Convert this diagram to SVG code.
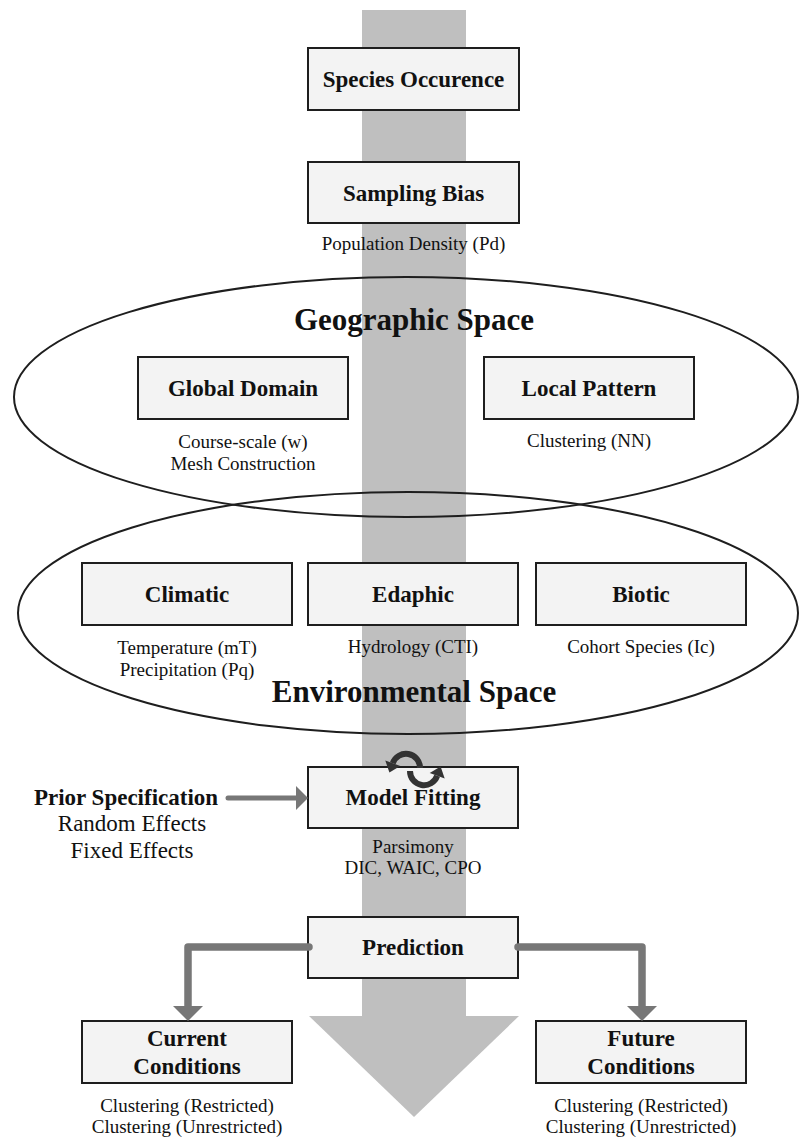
<svg xmlns="http://www.w3.org/2000/svg" width="800" height="1138" viewBox="0 0 800 1138">
<defs>
<style>
.box{fill:#f3f3f3;stroke:#1e1e1e;stroke-width:2}
.ell{fill:none;stroke:#1e1e1e;stroke-width:2}
.t{font-family:"Liberation Serif","Times New Roman",serif;font-weight:bold;font-size:23px;fill:#111;text-anchor:middle}
.s{font-family:"Liberation Serif","Times New Roman",serif;font-size:19px;fill:#111;text-anchor:middle}
.big{font-family:"Liberation Serif","Times New Roman",serif;font-weight:bold;font-size:31px;fill:#111;text-anchor:middle}
.p{font-family:"Liberation Serif","Times New Roman",serif;font-size:23px;fill:#111;text-anchor:middle}
.conn{fill:none;stroke:#777;stroke-width:7.5;stroke-linejoin:round;stroke-linecap:round}
.head{fill:#777}
.cyc{fill:none;stroke:#333;stroke-width:6}
</style>
</defs>
<rect width="800" height="1138" fill="#ffffff"/>
<g id="flow-arrow">
<rect x="362" y="10" width="104" height="1007" fill="#bfbfbf"/>
<polygon points="309,1016 519,1016 414,1117" fill="#bfbfbf"/>
</g>
<g id="geographic-space">
<ellipse class="ell" cx="406" cy="397" rx="392" ry="120"/>
<text class="big" x="414" y="330">Geographic Space</text>
</g>
<g id="environmental-space">
<ellipse class="ell" cx="408" cy="613" rx="390" ry="121"/>
<text class="big" x="414" y="702">Environmental Space</text>
</g>
<g id="species-occurence">
<rect class="box" x="308" y="48" width="211" height="62"/>
<text class="t" x="413.5" y="87">Species Occurence</text>
</g>
<g id="sampling-bias">
<rect class="box" x="308" y="162" width="211" height="61"/>
<text class="t" x="413.5" y="201">Sampling Bias</text>
<text class="s" x="413.5" y="250">Population Density (Pd)</text>
</g>
<g id="global-domain">
<rect class="box" x="138" y="357" width="210" height="62"/>
<text class="t" x="243" y="396">Global Domain</text>
<text class="s" x="243" y="448">Course-scale (w)</text>
<text class="s" x="243" y="470">Mesh Construction</text>
</g>
<g id="local-pattern">
<rect class="box" x="484" y="357" width="210" height="62"/>
<text class="t" x="589" y="396">Local Pattern</text>
<text class="s" x="589" y="447">Clustering (NN)</text>
</g>
<g id="climatic">
<rect class="box" x="82" y="563" width="210" height="62"/>
<text class="t" x="187" y="602">Climatic</text>
<text class="s" x="187" y="654">Temperature (mT)</text>
<text class="s" x="187" y="676">Precipitation (Pq)</text>
</g>
<g id="edaphic">
<rect class="box" x="308" y="563" width="210" height="62"/>
<text class="t" x="413" y="602">Edaphic</text>
<text class="s" x="413" y="653">Hydrology (CTI)</text>
</g>
<g id="biotic">
<rect class="box" x="536" y="563" width="210" height="62"/>
<text class="t" x="641" y="602">Biotic</text>
<text class="s" x="641" y="653">Cohort Species (Ic)</text>
</g>
<g id="prior-specification">
<text class="t" x="126" y="805">Prior Specification</text>
<text class="p" x="132" y="831">Random Effects</text>
<text class="p" x="132" y="858">Fixed Effects</text>
</g>
<g id="model-fitting">
<rect class="box" x="308" y="767" width="210" height="61"/>
<text class="t" x="413" y="805">Model Fitting</text>
<text class="s" x="413" y="853">Parsimony</text>
<text class="s" x="413" y="874">DIC, WAIC, CPO</text>
<path class="cyc" d="M 420 768 A 14 14 0 0 0 392.8 763.2"/>
<polygon fill="#333" points="400.3,765.9 385.3,760.5 389.4,772.6"/>
<path class="cyc" d="M 410 771 A 14 14 0 0 0 437.2 775.8"/>
<polygon fill="#333" points="444.7,778.5 429.7,773.1 440.6,766.4"/>
</g>
<g id="prediction">
<rect class="box" x="308" y="917" width="210" height="61"/>
<text class="t" x="413" y="955">Prediction</text>
</g>
<g id="current-conditions">
<rect class="box" x="82" y="1021" width="210" height="62"/>
<text class="t" x="187" y="1046">Current</text>
<text class="t" x="187" y="1074">Conditions</text>
<text class="s" x="187" y="1112">Clustering (Restricted)</text>
<text class="s" x="187" y="1133">Clustering (Unrestricted)</text>
</g>
<g id="future-conditions">
<rect class="box" x="536" y="1021" width="210" height="62"/>
<text class="t" x="641" y="1046">Future</text>
<text class="t" x="641" y="1074">Conditions</text>
<text class="s" x="641" y="1112">Clustering (Restricted)</text>
<text class="s" x="641" y="1133">Clustering (Unrestricted)</text>
</g>
<g id="connectors">
<line x1="228" y1="798" x2="298" y2="798" stroke="#777" stroke-width="5" stroke-linecap="round"/>
<polygon class="head" points="296,786 308,798 296,810"/>
<polyline class="conn" points="309,947 188,947 188,1007"/>
<polygon class="head" points="173,1006 203,1006 188,1021"/>
<polyline class="conn" points="518,947 642,947 642,1007"/>
<polygon class="head" points="627,1006 657,1006 642,1021"/>
</g>
</svg>
